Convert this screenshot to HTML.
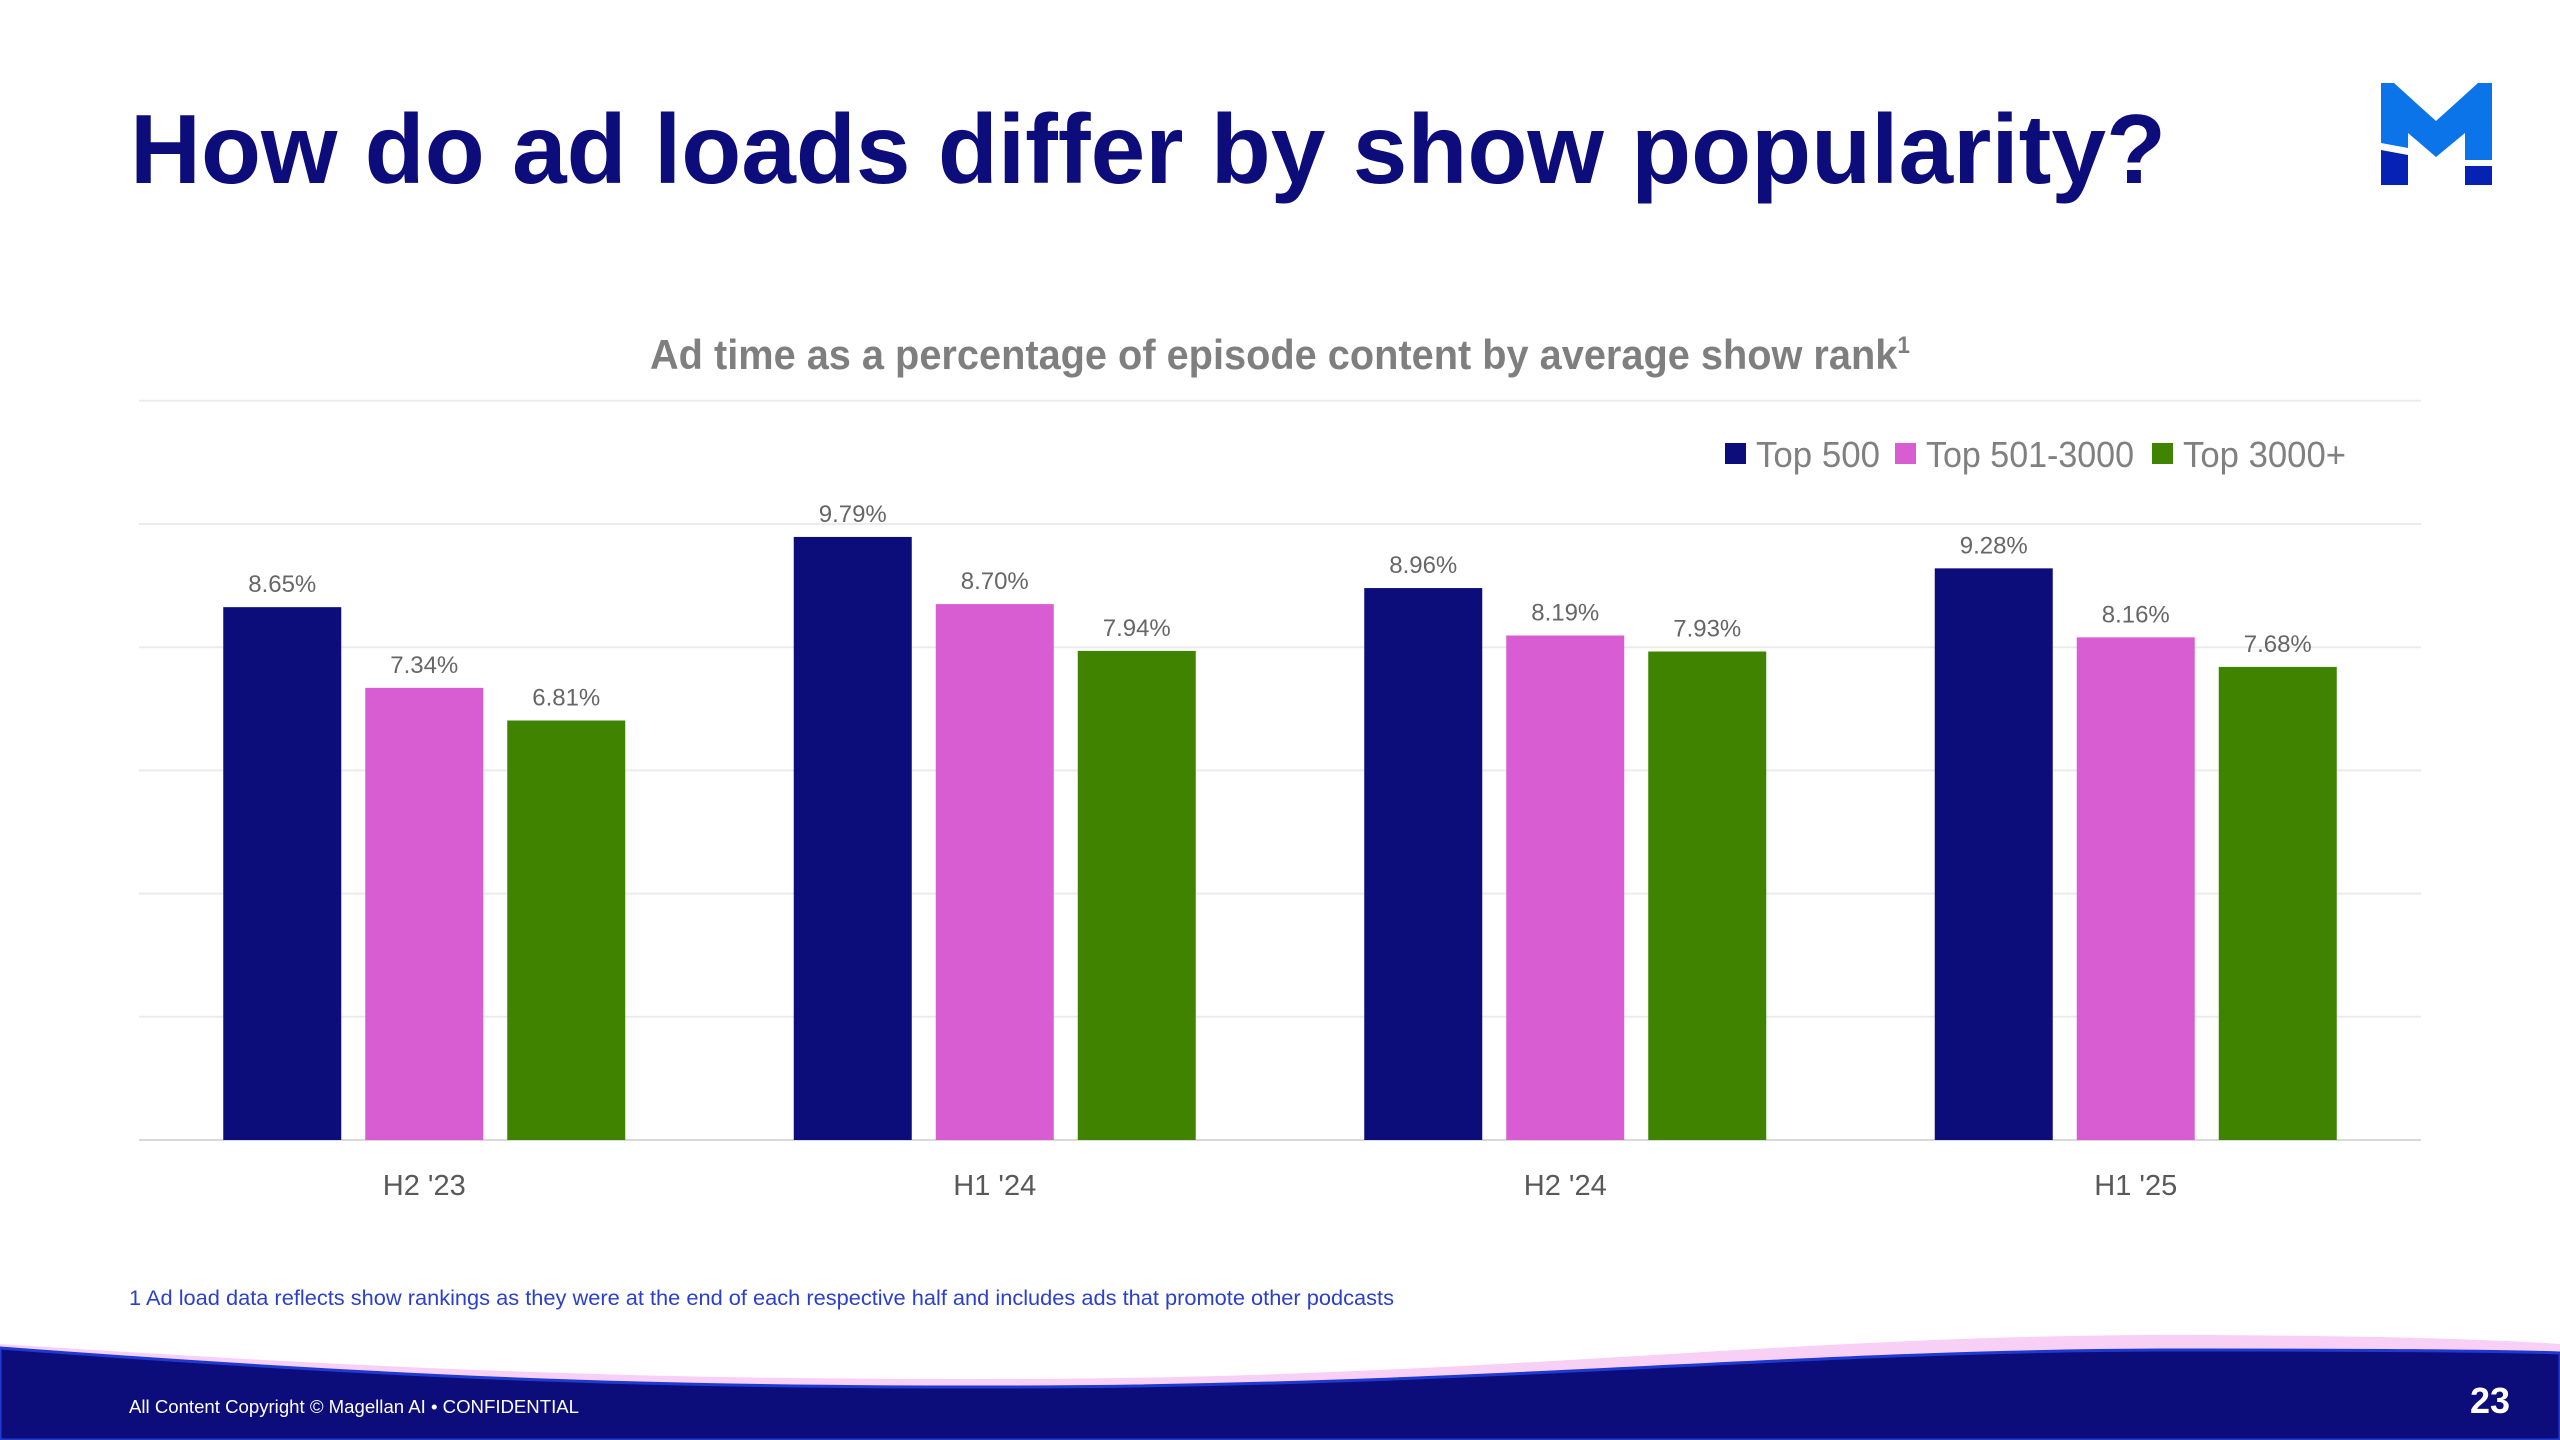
<!DOCTYPE html>
<html><head><meta charset="utf-8"><style>
html,body{margin:0;padding:0;background:#fff;}
svg{display:block;font-family:"Liberation Sans",sans-serif;}
</style></head><body>
<svg id="chart" width="2560" height="1440" viewBox="0 0 2560 1440" xmlns="http://www.w3.org/2000/svg">
  <text x="130" y="183" font-size="98" font-weight="bold" fill="#0c0c7a" textLength="2036" lengthAdjust="spacingAndGlyphs">How do ad loads differ by show popularity?</text>
  <g>
    <polygon points="2381,83 2394,83 2436,121 2478,83 2492,83 2492,160 2465,160 2465,133 2436,157 2408,133 2408,148 2381,143" fill="#0a74e8"/>
    <polygon points="2381,150 2408,155 2408,185 2381,185" fill="#0622b4"/>
    <rect x="2465" y="166" width="27" height="19" fill="#0622b4"/>
  </g>
  <text x="1280" y="369" text-anchor="middle" font-size="42" font-weight="bold" fill="#7f7f7f" textLength="1260" lengthAdjust="spacingAndGlyphs">Ad time as a percentage of episode content by average show rank<tspan font-size="24" dy="-16">1</tspan></text>
  <g id="grid"></g>
  <g id="bars"></g>
  <g id="labels"></g>
  <g id="xaxis"></g>
  <g id="legend"></g>
  <text x="129" y="1305" font-size="21" fill="#2a3fcf" textLength="1265" lengthAdjust="spacingAndGlyphs">1 Ad load data reflects show rankings as they were at the end of each respective half and includes ads that promote other podcasts</text>
  <path d="M0,1344 C400,1370 650,1380 1012,1379 C1500,1378 1800,1333 2200,1335 C2400,1336 2500,1340 2560,1344 L2560,1440 L0,1440 Z" fill="#f8d0f5"/>
  <path d="M0,1348 C400,1378 650,1388 1012,1387 C1500,1386 1800,1349 2200,1350 C2400,1350 2500,1351 2560,1353 L2560,1440 L0,1440 Z" fill="#0c0c7a" stroke="#1f3ad0" stroke-width="3"/>
  <text x="129" y="1413" font-size="18" fill="#ffffff" textLength="450" lengthAdjust="spacingAndGlyphs">All Content Copyright © Magellan AI • CONFIDENTIAL</text>
  <text x="2490" y="1413" font-size="36" font-weight="bold" fill="#ffffff" text-anchor="middle">23</text>
</svg>
<script>
const categories = ["H2 '23", "H1 '24", "H2 '24", "H1 '25"];
const seriesNames = ["Top 500", "Top 501-3000", "Top 3000+"];
const top500 = [8.65, 9.79, 8.96, 9.28];
const top501to3000 = [7.34, 8.70, 8.19, 8.16];
const top3000plus = [6.81, 7.94, 7.93, 7.68];
const gridTicks = [0, 2, 4, 6, 8, 10, 12];

const NS = "http://www.w3.org/2000/svg";
const colors = ["#0c0c7a", "#d95dd2", "#3f8300"];
const series = [top500, top501to3000, top3000plus];
const plotL = 139, plotR = 2421, base = 1140, perUnit = 61.6;
function y(v){ return base - v * perUnit; }
const band = (plotR - plotL) / categories.length;
function xc(i){ return plotL + band * (i + 0.5); }
const barW = 118, step = 142;

function mk(tag, attrs, parent){
  const e = document.createElementNS(NS, tag);
  for (const k in attrs) e.setAttribute(k, attrs[k]);
  parent.appendChild(e); return e;
}
const grid = document.getElementById('grid');
gridTicks.forEach(t => {
  const l = mk('line', {x1: plotL, x2: plotR, y1: y(t), y2: y(t), stroke: t === 0 ? '#d9d9d9' : '#ebebeb', 'stroke-width': 2}, grid);
  
  
});
const bars = document.getElementById('bars');
const labels = document.getElementById('labels');
categories.forEach((c, i) => {
  series.forEach((s, j) => {
    const cx = xc(i) + (j - 1) * step;
    const r = mk('rect', {x: cx - barW / 2, y: y(s[i]), width: barW, height: base - y(s[i]), fill: colors[j]}, bars);
    
    
    const t = mk('text', {x: cx, y: y(s[i]) - 15, 'text-anchor': 'middle', 'font-size': 24, fill: '#666666'}, labels);
    t.textContent = s[i].toFixed(2) + '%';
    
    
  });
  const xl = mk('text', {x: xc(i), y: 1195, 'text-anchor': 'middle', 'font-size': 29, fill: '#595959'}, document.getElementById('xaxis'));
  xl.textContent = c;
  
  
});
const legend = document.getElementById('legend');
const legX = [1725, 1895, 2152];
const legW = [124, 208, 163];
seriesNames.forEach((n, j) => {
  const g = mk('g', {}, legend);
  
  
  mk('rect', {x: legX[j], y: 443, width: 21, height: 21, fill: colors[j]}, g);
  const t = mk('text', {x: legX[j] + 31, y: 467, 'font-size': 36, fill: '#808080', textLength: legW[j], lengthAdjust: 'spacingAndGlyphs'}, g);
  t.textContent = n;
});
</script>
</body></html>
